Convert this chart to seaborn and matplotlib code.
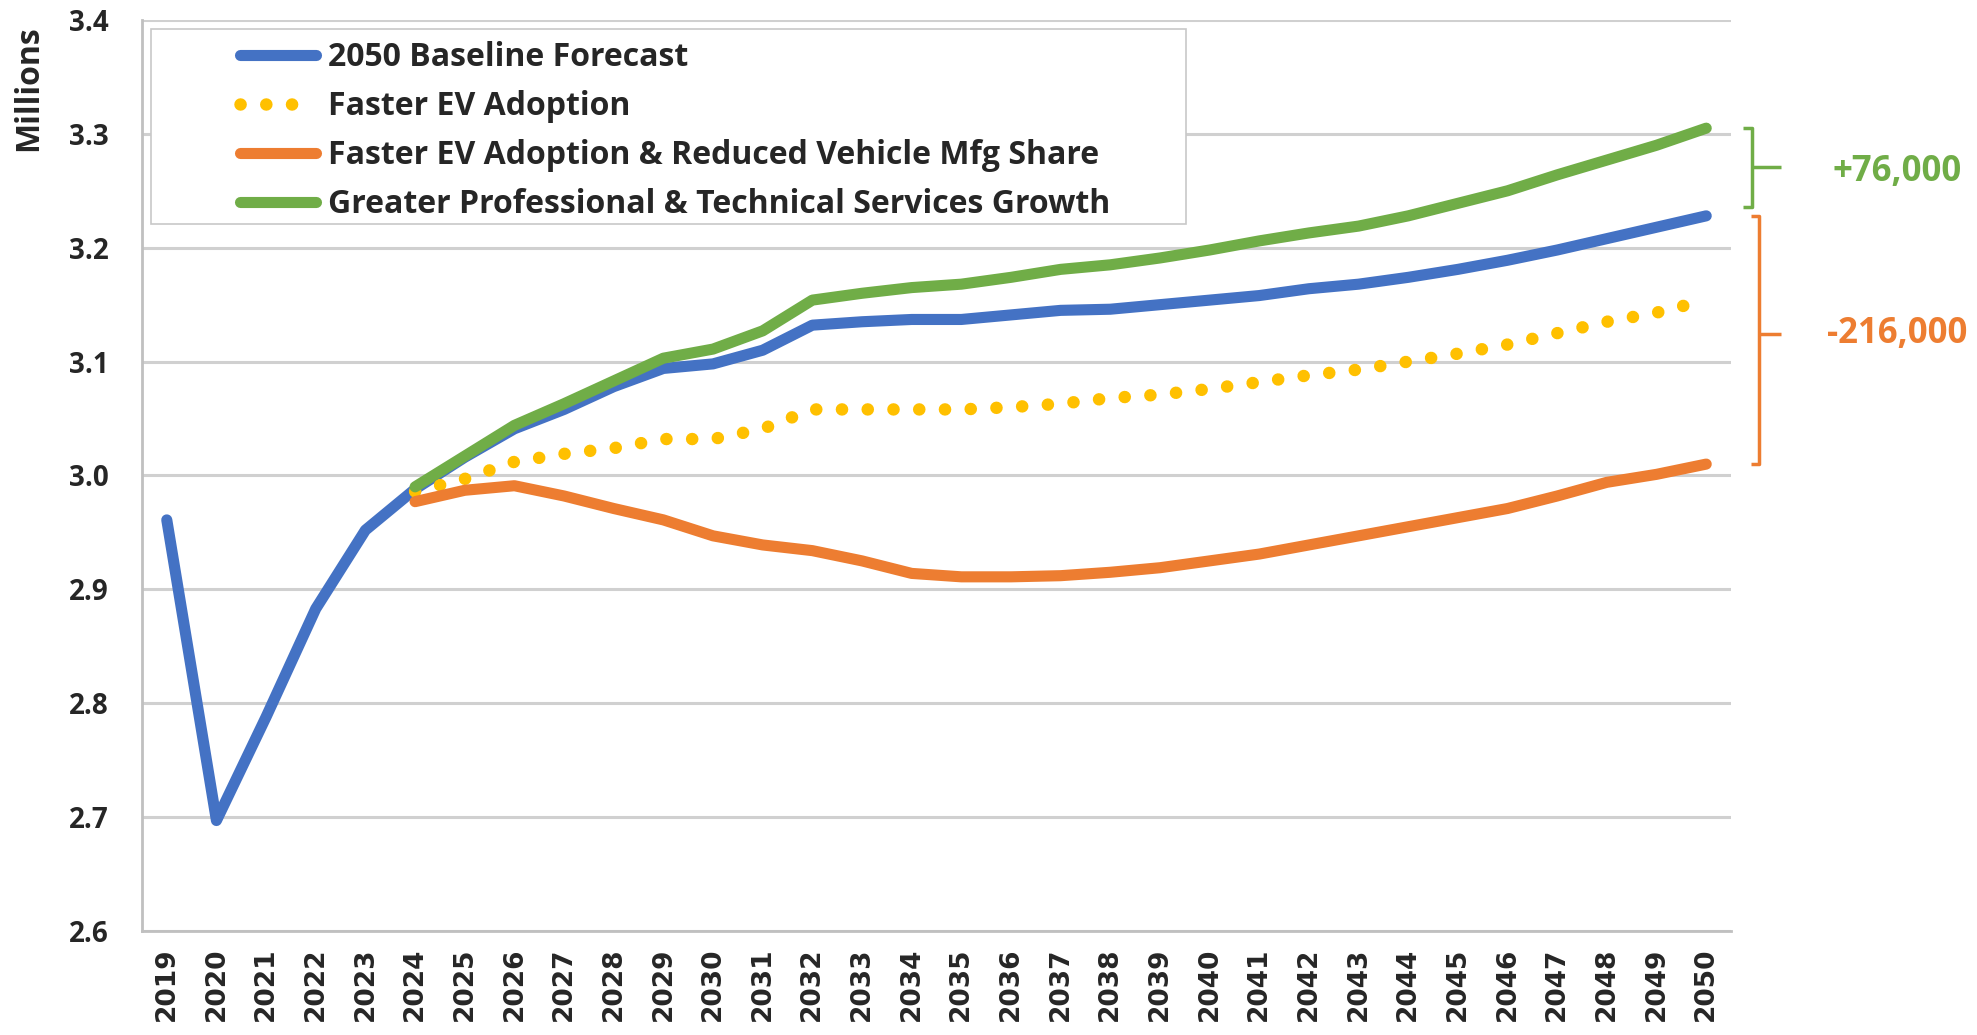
import matplotlib
matplotlib.use("Agg")
import matplotlib.pyplot as plt
from matplotlib.patches import Rectangle
import seaborn as sns

# --- Data (millions of jobs) ---
years = list(range(2019, 2051))
scenario_years = list(range(2024, 2051))

baseline = [2.961, 2.697, 2.788, 2.883, 2.952, 2.988, 3.016, 3.041, 3.058, 3.078,
            3.094, 3.098, 3.110, 3.132, 3.135, 3.137, 3.137, 3.141, 3.145, 3.146,
            3.150, 3.154, 3.158, 3.164, 3.168, 3.174, 3.181, 3.189, 3.198, 3.208,
            3.218, 3.228]
faster_ev = [2.986, 2.997, 3.012, 3.019, 3.024, 3.032, 3.032, 3.041, 3.058, 3.058,
             3.058, 3.058, 3.060, 3.063, 3.068, 3.071, 3.076, 3.082, 3.088, 3.093,
             3.100, 3.107, 3.115, 3.125, 3.135, 3.143, 3.154]
faster_ev_mfg = [2.977, 2.987, 2.991, 2.982, 2.971, 2.961, 2.947, 2.939, 2.934, 2.925,
                 2.914, 2.911, 2.911, 2.912, 2.915, 2.919, 2.925, 2.931, 2.939, 2.947,
                 2.955, 2.963, 2.971, 2.982, 2.994, 3.001, 3.010]
prof_tech = [2.990, 3.017, 3.044, 3.063, 3.083, 3.103, 3.111, 3.127, 3.154, 3.160,
             3.165, 3.168, 3.174, 3.181, 3.185, 3.191, 3.198, 3.206, 3.213, 3.219,
             3.228, 3.239, 3.250, 3.264, 3.277, 3.290, 3.305]

series_names = ["2050 Baseline Forecast", "Faster EV Adoption",
                "Faster EV Adoption & Reduced Vehicle Mfg Share",
                "Greater Professional & Technical Services Growth"]
gap_labels = ["+76,000", "-216,000"]

BLUE = "#4472C4"
YELLOW = "#FFC000"
ORANGE = "#ED7D31"
GREEN = "#70AD47"
LW = 8

sns.set_theme(style="white")
plt.rcParams["font.family"] = ["Open Sans", "DejaVu Sans"]

fig = plt.figure(figsize=(19.77, 10.35), dpi=100)
ax = fig.add_axes([0.0718, 0.1005, 0.8038, 0.8802])

sns.lineplot(x=years, y=baseline, ax=ax, color=BLUE, lw=LW, label=series_names[0],
             solid_capstyle="round", solid_joinstyle="round")
sns.lineplot(x=scenario_years, y=faster_ev, ax=ax, color=YELLOW, lw=9,
             label=series_names[1], dash_capstyle="round")
ax.lines[-1].set_linestyle((0, (0.01, 2.05)))
sns.lineplot(x=scenario_years, y=faster_ev_mfg, ax=ax, color=ORANGE, lw=LW,
             label=series_names[2], solid_capstyle="round", solid_joinstyle="round")
sns.lineplot(x=scenario_years, y=prof_tech, ax=ax, color=GREEN, lw=LW,
             label=series_names[3], solid_capstyle="round", solid_joinstyle="round")

ax.set_xlim(2018.5, 2050.5)
ax.set_ylim(2.6, 3.4)
ax.set_yticks([2.6, 2.7, 2.8, 2.9, 3.0, 3.1, 3.2, 3.3, 3.4])
ax.set_yticklabels([f"{v:.1f}" for v in ax.get_yticks()], fontsize=20, fontweight="bold")
ax.set_xticks(years)
ax.set_xticklabels([str(y) for y in years], rotation=90, fontsize=19,
                   fontweight="bold", family="DejaVu Sans")
ax.tick_params(axis="y", length=0, pad=24)
ax.tick_params(axis="x", length=0, pad=12)
ax.yaxis.grid(True, color="#d0d0d0", lw=2.2)
ax.set_axisbelow(True)
for side in ["top", "right"]:
    ax.spines[side].set_visible(False)
for side in ["left", "bottom"]:
    ax.spines[side].set_color("#c0c0c0")
    ax.spines[side].set_linewidth(2)

ax.set_ylabel("Millions", fontsize=23, fontweight="bold")
ax.yaxis.set_label_coords(-0.061, 0.925)

# legend box (Excel-style, wider than its entries)
ax.add_patch(Rectangle((0.0057, 0.776), 0.651, 0.214, transform=ax.transAxes,
                       facecolor="white", edgecolor="#c8c8c8", lw=1.2, zorder=4))
leg = ax.legend(loc="upper left", bbox_to_anchor=(0.0617, 0.977), fontsize=23,
                frameon=False, handlelength=2.37, handletextpad=0.4,
                borderpad=0.0, labelspacing=0.5, borderaxespad=0.0)
leg.set_zorder(5)
for t in leg.get_texts():
    t.set_fontweight("bold")

# --- Brackets showing 2050 differences ---
g_top, g_bot = prof_tech[-1], baseline[-1] + 0.008
o_top, o_bot = baseline[-1], faster_ev_mfg[-1]
kw = dict(clip_on=False, lw=2.5, solid_capstyle="butt")
ax.plot([2050.75, 2050.93, 2050.93, 2050.75], [g_top, g_top, g_bot, g_bot], color=GREEN, **kw)
ax.plot([2050.93, 2051.5], [(g_top + g_bot) / 2] * 2, color=GREEN, **kw)
ax.plot([2050.9, 2051.07, 2051.07, 2050.9], [o_top, o_top, o_bot, o_bot], color=ORANGE, **kw)
ax.plot([2051.07, 2051.5], [(o_top + o_bot) / 2 + 0.005] * 2, color=ORANGE, **kw)

ax.text(2053.85, (g_top + g_bot) / 2 - 0.004, gap_labels[0], color=GREEN, fontsize=25,
        fontweight="bold", ha="center", va="center")
ax.text(2053.85, (o_top + o_bot) / 2 + 0.005, gap_labels[1], color=ORANGE, fontsize=25,
        fontweight="bold", ha="center", va="center")

plt.savefig("out.png", dpi=100)
plt.close()
